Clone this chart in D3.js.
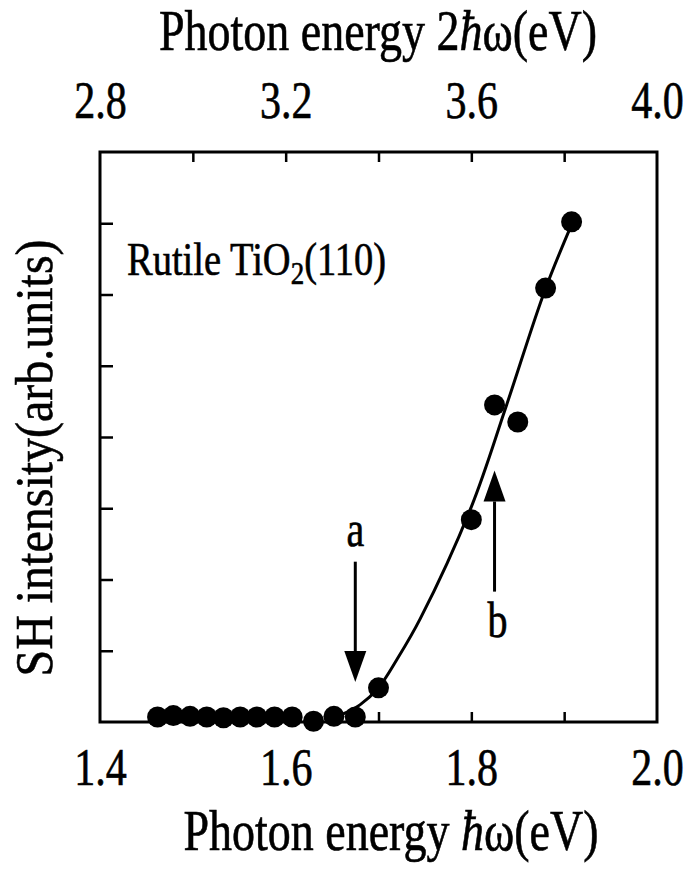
<!DOCTYPE html>
<html>
<head>
<meta charset="utf-8">
<script src="https://cdn.jsdelivr.net/npm/d3@7"></script>
<style>
  body { margin: 0; background: #fff; }
  text { font-family: "Liberation Serif", "Times New Roman", serif; fill: #000; stroke: #000; stroke-width: 0.5px; }
</style>
</head>
<body>
<div id="chart"></div>
<script>
// measured points (photon energy in eV, SH intensity arb. units)
const energy = [1.462, 1.479, 1.497, 1.515, 1.533, 1.551, 1.569, 1.588, 1.607, 1.630, 1.652, 1.675,
                1.700, 1.800, 1.825, 1.850, 1.880, 1.908]
const intensity = [0.07, 0.09, 0.08, 0.07, 0.06, 0.07, 0.07, 0.07, 0.07, 0.01, 0.08, 0.07,
                   0.48, 2.84, 4.45, 4.21, 6.09, 7.02]

// fitted guide curve
const fitEnergy = [1.648, 1.665, 1.680, 1.700, 1.720, 1.745, 1.800, 1.838, 1.879, 1.908]
const fitIntensity = [0.05, 0.13, 0.24, 0.48, 0.88, 1.45, 3.02, 4.45, 6.05, 6.98]

// arrows
const arrowNames = ["a", "b"]
const arrowEnergy = [1.675, 1.825]
const arrowFrom = [2.25, 1.83]
const arrowTo = [0.56, 3.53]

const bottomLabels = [1.4, 1.6, 1.8, 2.0]
const bottomTicks = [1.5, 1.6, 1.7, 1.8, 1.9]
const topLabels = [2.8, 3.2, 3.6, 4.0]
const topTicks = [3.0, 3.2, 3.4, 3.6, 3.8]
const yTicks = [1, 2, 3, 4, 5, 6, 7]

const width = 693, height = 869
const margin = {top: 152, right: 36, bottom: 147, left: 100}
const tall = 1.25   // the scanned lettering is taller than it is wide

const svg = d3.select("#chart").append("svg")
    .attr("width", width)
    .attr("height", height)

const xScale = d3.scaleLinear().domain([1.4, 2.0]).range([margin.left, width - margin.right])
const x2Scale = d3.scaleLinear().domain([2.8, 4.0]).range([margin.left, width - margin.right])
const yScale = d3.scaleLinear().domain([0, 8]).range([height - margin.bottom, margin.top])

// frame
svg.append("rect")
    .attr("x", margin.left)
    .attr("y", margin.top)
    .attr("width", width - margin.left - margin.right)
    .attr("height", height - margin.top - margin.bottom)
    .attr("fill", "none")
    .attr("stroke", "#000")
    .attr("stroke-width", 3)

function styleAxis(g) {
    g.select(".domain").remove()
    g.selectAll("line").attr("stroke", "#000").attr("stroke-width", 2.5)
}

function tickText(g, offset) {
    g.selectAll("text")
        .attr("y", null).attr("dy", null)
        .attr("transform", "translate(0," + offset + ") scale(1," + tall + ")")
        .style("font-size", "42px")
        .style("font-family", "Liberation Serif")
}

// bottom ticks + labels
svg.append("g")
    .attr("transform", "translate(0," + (height - margin.bottom) + ")")
    .call(d3.axisBottom(xScale).tickValues(bottomTicks).tickSize(-10).tickFormat(""))
    .call(styleAxis)
svg.append("g")
    .attr("transform", "translate(0," + (height - margin.bottom) + ")")
    .call(d3.axisBottom(xScale).tickValues(bottomLabels).tickSize(0).tickFormat(d3.format(".1f")))
    .call(styleAxis)
    .call(g => tickText(g, 63))

// top ticks + labels
svg.append("g")
    .attr("transform", "translate(0," + margin.top + ")")
    .call(d3.axisTop(x2Scale).tickValues(topTicks).tickSize(-10).tickFormat(""))
    .call(styleAxis)
svg.append("g")
    .attr("transform", "translate(0," + margin.top + ")")
    .call(d3.axisTop(x2Scale).tickValues(topLabels).tickSize(0).tickFormat(d3.format(".1f")))
    .call(styleAxis)
    .call(g => tickText(g, -34))

// left ticks (no labels)
svg.append("g")
    .attr("transform", "translate(" + margin.left + ",0)")
    .call(d3.axisLeft(yScale).tickValues(yTicks).tickSize(-13).tickFormat(""))
    .call(styleAxis)

// fit curve
const line = d3.line()
    .x((d, i) => xScale(fitEnergy[i]))
    .y((d, i) => yScale(fitIntensity[i]))
    .curve(d3.curveCatmullRom)
svg.append("path")
    .attr("d", line(fitEnergy))
    .attr("fill", "none")
    .attr("stroke", "#000")
    .attr("stroke-width", 3)

// points
svg.append("g").selectAll("circle")
    .data(energy)
    .join("circle")
    .attr("cx", d => xScale(d))
    .attr("cy", (d, i) => yScale(intensity[i]))
    .attr("r", 10.5)
    .attr("fill", "#000")

// arrows
arrowNames.forEach((name, i) => {
    const x = xScale(arrowEnergy[i])
    const y0 = yScale(arrowFrom[i])
    const y1 = yScale(arrowTo[i])
    const dir = y1 > y0 ? 1 : -1
    const headLen = 31, headHalf = 11
    svg.append("line")
        .attr("x1", x).attr("x2", x)
        .attr("y1", y0).attr("y2", y1 - dir * headLen)
        .attr("stroke", "#000")
        .attr("stroke-width", 3)
    svg.append("path")
        .attr("d", "M" + x + "," + y1 + "L" + (x - headHalf) + "," + (y1 - dir * headLen) +
            "L" + (x + headHalf) + "," + (y1 - dir * headLen) + "Z")
        .attr("fill", "#000")
    svg.append("text")
        .attr("transform", "translate(" + (x + (dir > 0 ? 0 : 3)) + "," +
            (dir > 0 ? y0 - 16 : y0 + 45) + ") scale(1," + tall + ")")
        .attr("text-anchor", "middle")
        .style("font-size", "40px")
        .text(name)
})

// sample label
const label = svg.append("text")
    .attr("transform", "translate(127,275) scale(1,1.18)")
    .style("font-size", "38.5px")
label.append("tspan").text("Rutile TiO")
label.append("tspan").attr("dy", 8).style("font-size", "27px").text("2")
label.append("tspan").attr("dy", -8).text("(110)")

// axis titles
const bottomTitle = svg.append("text")
    .attr("transform", "translate(391,850) scale(1," + tall + ")")
    .attr("text-anchor", "middle")
    .style("font-size", "46px")
bottomTitle.append("tspan").text("Photon energy ")
bottomTitle.append("tspan").style("font-style", "italic").text("ħ")
bottomTitle.append("tspan").text("ω(eV)")

const topTitle = svg.append("text")
    .attr("transform", "translate(378,50) scale(1," + tall + ")")
    .attr("text-anchor", "middle")
    .style("font-size", "46px")
topTitle.append("tspan").text("Photon energy 2")
topTitle.append("tspan").style("font-style", "italic").text("ħ")
topTitle.append("tspan").text("ω(eV)")

svg.append("text")
    .attr("transform", "translate(52,458) rotate(-90) scale(1,1.08)")
    .attr("text-anchor", "middle")
    .style("font-size", "48px")
    .text("SH intensity(arb.units)")
</script>
</body>
</html>
